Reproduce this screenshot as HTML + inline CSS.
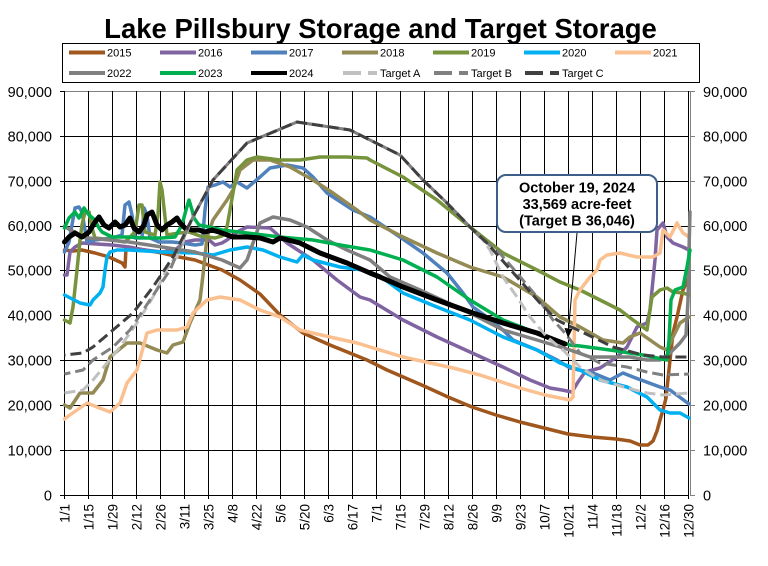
<!DOCTYPE html>
<html><head><meta charset="utf-8"><style>
html,body{margin:0;padding:0;background:#fff;}
svg{display:block;font-family:"Liberation Sans",Arial,sans-serif;}
</style></head><body>
<svg width="768" height="566" viewBox="0 0 768 566" xmlns="http://www.w3.org/2000/svg">
<rect width="768" height="566" fill="#fff"/>
<text x="380.5" y="38" font-size="27.5" font-weight="bold" text-anchor="middle" fill="#000">Lake Pillsbury Storage and Target Storage</text>

<!-- legend -->
<rect x="62.5" y="43.5" width="637" height="39" fill="#fff" stroke="#000" stroke-width="1"/>
<g stroke-width="4" fill="none">
<line x1="69" y1="52.5" x2="105" y2="52.5" stroke="#A0571E"/>
<line x1="160" y1="52.5" x2="196" y2="52.5" stroke="#8064A2"/>
<line x1="251" y1="52.5" x2="287" y2="52.5" stroke="#4F81BD"/>
<line x1="342" y1="52.5" x2="378" y2="52.5" stroke="#948A54"/>
<line x1="433" y1="52.5" x2="469" y2="52.5" stroke="#77933C"/>
<line x1="524" y1="52.5" x2="560" y2="52.5" stroke="#00B0F0"/>
<line x1="615" y1="52.5" x2="651" y2="52.5" stroke="#FAC090"/>
<line x1="69" y1="73" x2="105" y2="73" stroke="#808080"/>
<line x1="160" y1="73" x2="196" y2="73" stroke="#00B050"/>
<line x1="251" y1="73" x2="287" y2="73" stroke="#000"/>
<line x1="343" y1="73" x2="377" y2="73" stroke="#C0C0C0" stroke-dasharray="18 7 9"/>
<line x1="434" y1="73" x2="468" y2="73" stroke="#808080" stroke-dasharray="18 7 9"/>
<line x1="525" y1="73" x2="559" y2="73" stroke="#404040" stroke-dasharray="18 7 9"/>
</g>
<g font-size="11" fill="#000">
<text x="107" y="56.5">2015</text>
<text x="198" y="56.5">2016</text>
<text x="289" y="56.5">2017</text>
<text x="380" y="56.5">2018</text>
<text x="471" y="56.5">2019</text>
<text x="562" y="56.5">2020</text>
<text x="653" y="56.5">2021</text>
<text x="107" y="77">2022</text>
<text x="198" y="77">2023</text>
<text x="289" y="77">2024</text>
<text x="380" y="77">Target A</text>
<text x="471" y="77">Target B</text>
<text x="562" y="77">Target C</text>
</g>

<!-- grid -->
<g stroke="#000" stroke-width="1">
<line x1="60" y1="450.5" x2="689" y2="450.5"/>
<line x1="60" y1="405.5" x2="689" y2="405.5"/>
<line x1="60" y1="360.5" x2="689" y2="360.5"/>
<line x1="60" y1="315.5" x2="689" y2="315.5"/>
<line x1="60" y1="270.5" x2="689" y2="270.5"/>
<line x1="60" y1="226.5" x2="689" y2="226.5"/>
<line x1="60" y1="181.5" x2="689" y2="181.5"/>
<line x1="60" y1="136.5" x2="689" y2="136.5"/>
<line x1="60" y1="495.5" x2="689" y2="495.5"/>
<line x1="60" y1="91.5" x2="64.5" y2="91.5"/>
</g>
<line x1="64.5" y1="91.5" x2="695" y2="91.5" stroke="#808080" stroke-width="1"/>
<g stroke="#000" stroke-width="1">
<line x1="64.5" y1="91" x2="64.5" y2="499"/>
<line x1="88.5" y1="91" x2="88.5" y2="499"/>
<line x1="112.5" y1="91" x2="112.5" y2="499"/>
<line x1="136.5" y1="91" x2="136.5" y2="499"/>
<line x1="160.5" y1="91" x2="160.5" y2="499"/>
<line x1="184.5" y1="91" x2="184.5" y2="499"/>
<line x1="208.5" y1="91" x2="208.5" y2="499"/>
<line x1="232.5" y1="91" x2="232.5" y2="499"/>
<line x1="256.5" y1="91" x2="256.5" y2="499"/>
<line x1="280.5" y1="91" x2="280.5" y2="499"/>
<line x1="304.5" y1="91" x2="304.5" y2="499"/>
<line x1="328.5" y1="91" x2="328.5" y2="499"/>
<line x1="352.5" y1="91" x2="352.5" y2="499"/>
<line x1="376.5" y1="91" x2="376.5" y2="499"/>
<line x1="400.5" y1="91" x2="400.5" y2="499"/>
<line x1="424.5" y1="91" x2="424.5" y2="499"/>
<line x1="448.5" y1="91" x2="448.5" y2="499"/>
<line x1="472.5" y1="91" x2="472.5" y2="499"/>
<line x1="496.5" y1="91" x2="496.5" y2="499"/>
<line x1="520.5" y1="91" x2="520.5" y2="499"/>
<line x1="544.5" y1="91" x2="544.5" y2="499"/>
<line x1="568.5" y1="91" x2="568.5" y2="499"/>
<line x1="592.5" y1="91" x2="592.5" y2="499"/>
<line x1="616.5" y1="91" x2="616.5" y2="499"/>
<line x1="640.5" y1="91" x2="640.5" y2="499"/>
<line x1="664.5" y1="91" x2="664.5" y2="499"/>
<line x1="688.5" y1="91" x2="688.5" y2="499"/>
</g>
<g stroke="#808080" stroke-width="1">
<line x1="690.5" y1="91" x2="690.5" y2="496"/>
<line x1="690" y1="136.5" x2="695" y2="136.5"/>
<line x1="690" y1="181.5" x2="695" y2="181.5"/>
<line x1="690" y1="226.5" x2="695" y2="226.5"/>
<line x1="690" y1="270.5" x2="695" y2="270.5"/>
<line x1="690" y1="315.5" x2="695" y2="315.5"/>
<line x1="690" y1="360.5" x2="695" y2="360.5"/>
<line x1="690" y1="405.5" x2="695" y2="405.5"/>
<line x1="690" y1="450.5" x2="695" y2="450.5"/>
<line x1="690" y1="495.5" x2="695" y2="495.5"/>
</g>

<!-- y labels -->
<g font-size="14.5" fill="#000" text-anchor="end">
<text x="52" y="97">90,000</text>
<text x="52" y="141.5">80,000</text>
<text x="52" y="186.5">70,000</text>
<text x="52" y="231">60,000</text>
<text x="52" y="275.5">50,000</text>
<text x="52" y="320.5">40,000</text>
<text x="52" y="365.5">30,000</text>
<text x="52" y="410.5">20,000</text>
<text x="52" y="455.5">10,000</text>
<text x="52" y="500.5">0</text>
</g>
<g font-size="14.5" fill="#000" text-anchor="start">
<text x="703" y="97">90,000</text>
<text x="703" y="141.5">80,000</text>
<text x="703" y="186.5">70,000</text>
<text x="703" y="231">60,000</text>
<text x="703" y="275.5">50,000</text>
<text x="703" y="320.5">40,000</text>
<text x="703" y="365.5">30,000</text>
<text x="703" y="410.5">20,000</text>
<text x="703" y="455.5">10,000</text>
<text x="703" y="500.5">0</text>
</g>

<!-- x labels -->
<g font-size="13.5" fill="#000" text-anchor="end">
<text transform="translate(69.5,504) rotate(-90)">1/1</text>
<text transform="translate(93.5,504) rotate(-90)">1/15</text>
<text transform="translate(117.5,504) rotate(-90)">1/29</text>
<text transform="translate(141.5,504) rotate(-90)">2/12</text>
<text transform="translate(165.5,504) rotate(-90)">2/26</text>
<text transform="translate(189.5,504) rotate(-90)">3/11</text>
<text transform="translate(213.5,504) rotate(-90)">3/25</text>
<text transform="translate(237.5,504) rotate(-90)">4/8</text>
<text transform="translate(261.5,504) rotate(-90)">4/22</text>
<text transform="translate(285.5,504) rotate(-90)">5/6</text>
<text transform="translate(309.5,504) rotate(-90)">5/20</text>
<text transform="translate(333.5,504) rotate(-90)">6/3</text>
<text transform="translate(357.5,504) rotate(-90)">6/17</text>
<text transform="translate(381.5,504) rotate(-90)">7/1</text>
<text transform="translate(405.5,504) rotate(-90)">7/15</text>
<text transform="translate(429.5,504) rotate(-90)">7/29</text>
<text transform="translate(453.5,504) rotate(-90)">8/12</text>
<text transform="translate(477.5,504) rotate(-90)">8/26</text>
<text transform="translate(501.5,504) rotate(-90)">9/9</text>
<text transform="translate(525.5,504) rotate(-90)">9/23</text>
<text transform="translate(549.5,504) rotate(-90)">10/7</text>
<text transform="translate(573.5,504) rotate(-90)">10/21</text>
<text transform="translate(597.5,504) rotate(-90)">11/4</text>
<text transform="translate(621.5,504) rotate(-90)">11/18</text>
<text transform="translate(645.5,504) rotate(-90)">12/2</text>
<text transform="translate(669.5,504) rotate(-90)">12/16</text>
<text transform="translate(693.5,504) rotate(-90)">12/30</text>
</g>

<!-- series -->
<g fill="none" stroke-width="3.5" stroke-linejoin="round" stroke-linecap="round">
<polyline stroke="#A0571E" points="64.5,250 73,251 82,250 95,253 109,257 122,263 125,267 126,248 145,250 162,253 179,257 195,260 222,270 240,280 260,294 280,315 303,333 330,345 367,360 387,370 424,386 448,397 472,407 496,415 520,422 544,428 568,434 592,437 616,439 630,441 640,445 648,445 653,441 657,431 660,420 663,410 666,398 670,360 673,333 677,317 683,290 689,277"/>
<polyline stroke="#8064A2" points="64.5,275 67,275 70,252 75,247 82,243 112,245 129,247 145,250 162,252 175,250 185,242 195,240 209,240 215,245 222,243 227,240 237,232 247,227 270,228 287,243 313,260 337,280 360,297 370,300 403,320 437,337 470,352 503,367 530,380 550,388 562,390 572,392 578,382 585,372 600,368 617,357 627,347 637,327 647,323 650,310 655,260 657,230 663,223 667,237 673,243 683,247 689,250"/>
<polyline stroke="#4F81BD" points="64.5,252 69,242 75,208 79,207 82,212 87,242 95,240 112,238 122,235 125,205 129,202 132,215 135,238 142,238 144,208 147,215 150,238 159,242 172,242 182,243 195,245 202,244 205,210 208,187 215,185 223,182 230,187 237,182 247,188 260,177 270,168 287,165 303,168 313,177 327,193 353,210 370,217 400,237 423,253 447,273 463,293 473,307 487,317 503,330 513,340 537,350 557,360 570,368 593,373 610,380 623,373 633,377 660,387 670,390 689,404"/>
<polyline stroke="#948A54" points="64.5,405 70,408 80,393 93,393 103,380 110,357 127,343 140,343 157,350 167,353 173,345 183,342 190,323 200,300 203,275 207,237 213,220 227,200 233,190 240,170 253,160 270,160 290,167 313,180 333,193 357,210 370,220 403,237 437,253 470,267 503,277 537,297 560,317 580,327 603,340 623,343 630,337 640,333 650,340 660,347 667,350 673,337 680,323 689,317"/>
<polyline stroke="#77933C" points="64.5,320 70,323 73,307 77,270 80,240 82,225 85,212 89,212 92,228 95,238 112,240 125,242 135,232 139,205 142,205 145,232 155,235 158,215 160,182 162,190 164,208 167,235 179,233 189,232 200,236 215,238 222,236 227,227 233,193 237,170 247,160 257,157 280,160 300,160 320,157 347,157 367,158 370,160 403,177 437,200 470,227 503,253 537,270 560,282 580,290 600,300 620,310 633,320 647,330 650,310 652,297 660,290 667,288 673,292 683,293 689,295"/>
<polyline stroke="#00B0F0" points="64.5,295 80,303 90,305 93,300 100,293 103,287 105,270 107,257 110,252 117,250 129,250 162,252 195,253 213,255 230,250 247,247 263,250 280,257 297,262 303,255 313,260 340,267 363,270 380,276 403,293 437,307 470,320 503,337 537,350 560,363 580,370 600,380 627,387 647,397 660,410 670,413 680,413 689,418"/>
<polyline stroke="#FAC090" points="64.5,419 67,417 77,410 87,403 97,407 110,412 120,403 127,383 137,370 147,333 157,330 177,330 187,327 193,313 207,300 220,297 240,300 260,310 280,317 300,330 330,337 357,343 370,347 403,357 453,368 480,375 520,388 545,395 565,399 570,400 573,397 575,300 580,290 590,277 597,270 600,260 607,255 620,253 637,257 653,257 660,253 663,230 670,237 677,223 683,233 689,237"/>
<polyline stroke="#808080" points="64.5,226 70,230 75,232 82,237 89,238 129,242 162,247 195,252 222,260 240,268 247,260 253,243 260,223 273,217 290,220 307,227 327,240 347,250 370,260 390,277 420,290 470,313 503,330 537,340 570,350 590,357 613,357 630,357 647,360 660,360 670,353 680,343 686,335 688,300 689,250 690,212"/>
<polyline stroke="#00B050" points="64.5,228 69,218 75,212 79,218 84,208 89,215 95,220 99,228 102,232 112,237 129,237 145,238 162,238 175,237 182,225 186,210 189,200 192,210 194,218 199,225 209,227 222,230 247,233 280,237 313,240 340,245 370,250 403,260 437,277 470,300 503,320 537,333 570,345 580,346 610,350 643,355 667,360 669,340 671,300 675,290 683,287 687,267 690,250"/>
<polyline stroke="#000" stroke-width="5" points="64.5,242 69,237 75,233 82,237 89,232 95,222 99,217 104,225 109,228 115,222 120,227 125,225 130,218 134,228 139,232 144,225 147,215 152,212 157,225 162,230 167,225 172,222 177,218 180,223 185,228 192,230 199,230 205,232 212,230 219,232 233,237 247,237 260,238 273,242 280,238 300,243 320,253 347,263 370,273 380,277 403,287 437,300 470,312 503,323 537,333 565,344"/>
</g>
<g fill="none" stroke-width="3" stroke-linejoin="round">
<polyline stroke="#C0C0C0" stroke-dasharray="11 5" stroke-dashoffset="0" points="64.5,393 83,390 93,380 107,363 120,347 137,323 153,297 170,263 177,257 190,224 193,217 213,180 247,143 297,122 350,130 370,140 400,155 423,180 447,203 470,227 483,240 490,250 503,277 517,297 530,317 547,337 563,350 580,367 600,380 627,388 647,393 663,395 689,393"/>
<polyline stroke="#808080" stroke-dasharray="11 5" stroke-dashoffset="5" points="64.5,374 83,370 93,360 113,347 130,330 150,300 170,270 187,230 193,217 213,180 247,143 297,122 350,130 370,140 400,155 423,180 447,203 470,227 483,240 497,250 517,273 537,297 553,320 565,333 580,353 600,363 627,367 647,372 663,375 689,374"/>
<polyline stroke="#404040" stroke-dasharray="11 5" stroke-dashoffset="10" points="64.5,355 83,353 93,347 113,330 133,313 153,287 173,257 193,217 213,180 247,143 297,122 350,130 370,140 400,155 423,180 447,203 470,227 487,243 517,277 540,303 557,320 567,325 580,331 613,347 643,355 663,357 689,357"/>
</g>

<!-- annotation -->
<line x1="577" y1="233" x2="568.5" y2="330" stroke="#000" stroke-width="1"/>
<polygon points="564.5,328 572.5,329 568,338" fill="#000"/>
<rect x="497" y="175" width="160" height="57" rx="9" ry="9" fill="#fff" stroke="#3E5F8A" stroke-width="2"/>
<g font-size="14.5" font-weight="bold" text-anchor="middle" fill="#000">
<text x="577" y="192.5">October 19, 2024</text>
<text x="577" y="209">33,569 acre-feet</text>
<text x="577" y="225.5">(Target B 36,046)</text>
</g>
</svg>
</body></html>
